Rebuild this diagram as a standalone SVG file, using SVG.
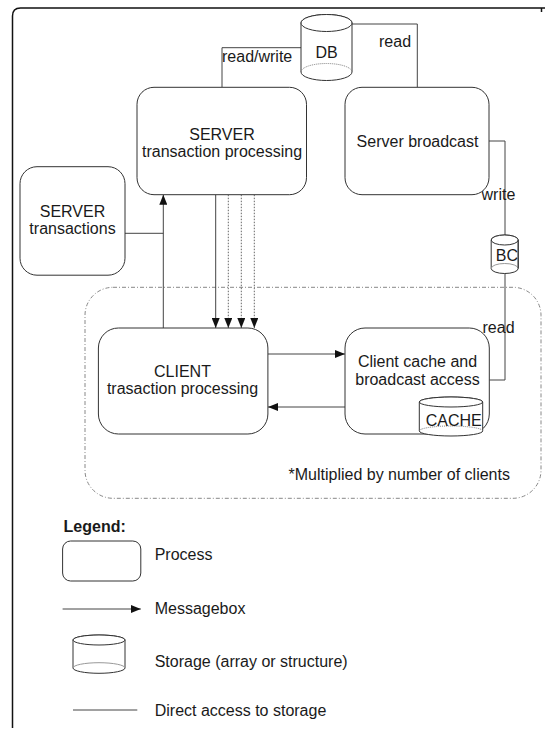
<svg xmlns="http://www.w3.org/2000/svg" width="545" height="729" viewBox="0 0 545 729">
<style>
  text { font-family: "Liberation Sans", Arial, sans-serif; font-size: 16px; fill: #1a1a1a; }
  .box { fill: #fff; stroke: #333; stroke-width: 1; }
  .cyl { fill: #fff; stroke: #333; stroke-width: 1; }
  .back { fill: none; stroke: #777; stroke-width: 1; stroke-dasharray: 1 1; }
  .backs { fill: none; stroke: #999; stroke-width: 1; }
  .conn { fill: none; stroke: #444; stroke-width: 1; }
  .dot { fill: none; stroke: #666; stroke-width: 1; stroke-dasharray: 1.5 1.5; }
  .group { fill: none; stroke: #888; stroke-width: 1; stroke-dasharray: 4 2 1 2; }
  .frame { fill: none; stroke: #111; stroke-width: 1.5; }
  .c { text-anchor: middle; }
</style>
<defs>
  <marker id="ah" markerUnits="userSpaceOnUse" markerWidth="10" markerHeight="8" refX="10" refY="4" orient="auto">
    <path d="M0,0 L10,4 L0,8 z" fill="#111"/>
  </marker>
</defs>

<rect width="545" height="729" fill="#fff"/>

<!-- outer frame -->
<path class="frame" d="M12.5,728 L12.5,16 Q12.5,8 20.5,8 L545,8"/>
<path class="frame" d="M541.5,8 L541.5,12" stroke-width="1"/>

<!-- client group -->
<g id="client-group">
  <rect class="group" x="85" y="287.3" width="456" height="211" rx="28"/>
  <text x="288.5" y="480">*Multiplied by number of clients</text>
</g>

<!-- connectors -->
<g id="connectors">
  <polyline class="conn" points="301,47.7 222,47.7 222,87.3"/>
  <polyline class="conn" points="351.7,24 417.3,24 417.3,87.3"/>
  <polyline class="conn" points="489,141 505,141 505,235"/>
  <polyline class="conn" points="505,273.5 505,380 489.3,380"/>
  <polyline class="conn" points="125,233.3 163.3,233.3"/>
  <line class="conn" x1="163.3" y1="328" x2="163.3" y2="194.7" marker-end="url(#ah)"/>
  <line class="conn" x1="215.7" y1="194.7" x2="215.7" y2="328" marker-end="url(#ah)"/>
  <line class="dot" x1="228.3" y1="194.7" x2="228.3" y2="328" marker-end="url(#ah)"/>
  <line class="dot" x1="241.3" y1="194.7" x2="241.3" y2="328" marker-end="url(#ah)"/>
  <line class="dot" x1="254.3" y1="194.7" x2="254.3" y2="328" marker-end="url(#ah)"/>
  <line class="conn" x1="268" y1="354" x2="345" y2="354" marker-end="url(#ah)"/>
  <line class="conn" x1="345" y1="407" x2="268" y2="407" marker-end="url(#ah)"/>
  <text x="222" y="61.5">read/write</text>
  <text x="379" y="46.7">read</text>
  <text x="481.5" y="200">write</text>
  <text x="482.5" y="333">read</text>
</g>

<!-- DB -->
<g id="db">
  <path class="cyl" d="M301,23 L301,72 A25.5,8.5 0 0 0 352,72 L352,23 A25.5,8.5 0 0 0 301,23 Z"/>
  <ellipse class="cyl" cx="326.5" cy="23" rx="25.5" ry="8.5"/>
  <path class="back" d="M301,72 A25.5,8.5 0 0 1 352,72"/>
  <text class="c" x="326.5" y="58">DB</text>
</g>

<!-- SERVER transaction processing -->
<g id="server-tp">
  <rect class="box" x="137" y="87.3" width="169.5" height="107.4" rx="17"/>
  <text class="c" x="222" y="140">SERVER</text>
  <text class="c" x="222" y="157">transaction processing</text>
</g>

<!-- Server broadcast -->
<g id="server-broadcast">
  <rect class="box" x="345" y="87.3" width="144" height="107.4" rx="17"/>
  <text class="c" x="417.5" y="147.3">Server broadcast</text>
</g>

<!-- SERVER transactions -->
<g id="server-transactions">
  <rect class="box" x="20" y="166.7" width="105" height="108.5" rx="17"/>
  <text class="c" x="72.5" y="216.7">SERVER</text>
  <text class="c" x="72.5" y="233.5">transactions</text>
</g>

<!-- BC -->
<g id="bc">
  <path class="cyl" d="M491.2,240 L491.2,268.5 A13.5,5 0 0 0 518.2,268.5 L518.2,240 A13.5,5 0 0 0 491.2,240 Z"/>
  <ellipse class="cyl" cx="504.7" cy="240" rx="13.5" ry="5"/>
  <path class="backs" d="M491.2,268.5 A13.5,5 0 0 1 518.2,268.5"/>
  <text x="495.8" y="261">BC</text>
  <line x1="518.2" y1="240" x2="518.2" y2="268.5" stroke="#333" stroke-width="1"/>
</g>

<!-- CLIENT transaction processing -->
<g id="client-tp">
  <rect class="box" x="98.4" y="328" width="169.5" height="106" rx="20"/>
  <text class="c" x="182.5" y="376.7">CLIENT</text>
  <text class="c" x="182.5" y="393.5">trasaction processing</text>
</g>

<!-- Client cache and broadcast access -->
<g id="client-cache">
  <rect class="box" x="345" y="328" width="144.3" height="106" rx="20"/>
  <text class="c" x="417.5" y="367.3">Client cache and</text>
  <text class="c" x="417.5" y="385">broadcast access</text>
  <g id="cache">
    <path class="cyl" d="M419.3,402 L419.3,431 A31.7,5 0 0 0 482.7,431 L482.7,402 A31.7,5 0 0 0 419.3,402 Z"/>
    <ellipse class="cyl" cx="451" cy="402" rx="31.7" ry="5"/>
    <path class="back" d="M419.3,431 A31.7,5 0 0 1 482.7,431"/>
    <text x="425.7" y="425.7">CACHE</text>
  </g>
</g>

<!-- Legend -->
<g id="legend">
  <text x="63.6" y="531.7" font-weight="bold">Legend:</text>
  <rect class="box" x="62.6" y="541" width="78.2" height="40" rx="8"/>
  <text x="154.7" y="560">Process</text>
  <line class="conn" x1="62.6" y1="609" x2="140.8" y2="609" marker-end="url(#ah)"/>
  <text x="154.7" y="614">Messagebox</text>
  <path class="cyl" d="M73,640 L73,668 A26,5.3 0 0 0 125,668 L125,640 A26,5 0 0 0 73,640 Z"/>
  <ellipse class="cyl" cx="99" cy="640" rx="26" ry="5"/>
  <path class="backs" d="M73,668 A26,5.3 0 0 1 125,668"/>
  <text x="154.7" y="667">Storage (array or structure)</text>
  <line class="conn" x1="73" y1="710" x2="137.3" y2="710"/>
  <text x="154.7" y="715.5">Direct access to storage</text>
</g>
</svg>
